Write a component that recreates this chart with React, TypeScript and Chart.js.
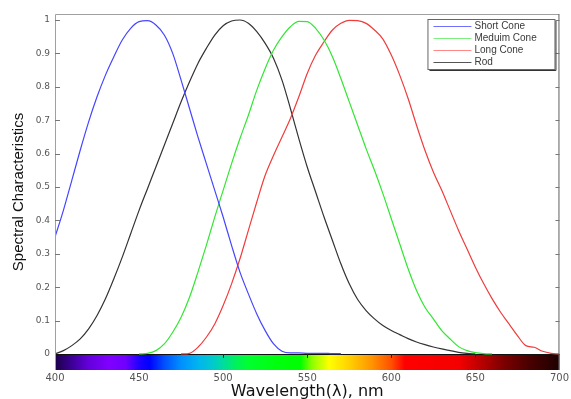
import { useEffect, useRef } from 'react';
import { Chart, registerables } from 'chart.js';

Chart.register(...registerables);

const wavelengths = [
  400, 405, 410, 415, 420, 425, 430, 435, 440, 445,
  450, 455, 460, 465, 470, 475, 480, 485, 490, 495,
  500, 505, 510, 515, 520, 525, 530, 535, 540, 545,
  550, 555, 560, 565, 570, 575, 580, 585, 590, 595,
  600, 605, 610, 615, 620, 625, 630, 635, 640, 645,
  650, 655, 660, 665, 670, 675, 680, 685, 690, 695, 700,
];

const shortCone = [
  0.35, 0.43, 0.52, 0.61, 0.695, 0.77, 0.835, 0.89, 0.94, 0.975,
  0.995, 0.998, 0.985, 0.955, 0.90, 0.82, 0.735, 0.65, 0.57, 0.49,
  0.41, 0.325, 0.245, 0.18, 0.12, 0.07, 0.03, 0.008, 0.003, 0.003,
  0.002, 0.002, 0.002, 0.001, 0.001, null, null, null, null, null,
  null, null, null, null, null, null, null, null, null, null,
  null, null, null, null, null, null, null, null, null, null, null,
];

const mediumCone = [
  null, null, null, null, null, null, null, null, null, null,
  0, 0.002, 0.01, 0.03, 0.065, 0.11, 0.17, 0.245, 0.325, 0.41,
  0.49, 0.57, 0.645, 0.715, 0.79, 0.855, 0.91, 0.95, 0.98, 0.996,
  0.995, 0.975, 0.94, 0.89, 0.825, 0.755, 0.685, 0.615, 0.55, 0.48,
  0.405, 0.33, 0.255, 0.19, 0.14, 0.105, 0.07, 0.045, 0.022, 0.01,
  0.004, 0.001, 0, null, null, null, null, null, null, null, null,
];

const longCone = [
  null, null, null, null, null, null, null, null, null, null,
  null, null, null, null, null, 0, 0.002, 0.02, 0.05, 0.09,
  0.145, 0.21, 0.285, 0.37, 0.455, 0.535, 0.595, 0.65, 0.705, 0.77,
  0.84, 0.895, 0.935, 0.97, 0.99, 0.999, 0.998, 0.99, 0.97, 0.943,
  0.895, 0.835, 0.765, 0.685, 0.61, 0.545, 0.49, 0.43, 0.37, 0.315,
  0.26, 0.21, 0.165, 0.125, 0.09, 0.055, 0.025, 0.02, 0.008, 0.002, 0,
];

const rod = [
  0, 0.01, 0.025, 0.045, 0.075, 0.115, 0.165, 0.225, 0.29, 0.36,
  0.43, 0.495, 0.56, 0.625, 0.69, 0.755, 0.815, 0.87, 0.915, 0.955,
  0.983, 0.997, 1.0, 0.99, 0.965, 0.93, 0.885, 0.82, 0.735, 0.645,
  0.56, 0.485, 0.41, 0.34, 0.27, 0.21, 0.163, 0.13, 0.105, 0.085,
  0.07, 0.058, 0.046, 0.036, 0.028, 0.021, 0.015, 0.01, 0.005, 0.002,
  0, null, null, null, null, null, null, null, null, null, null,
];

const seriesLabels = ['Short Cone', 'Meduim Cone', 'Long Cone', 'Rod'];
const seriesColors = ['#4646ff', '#33e633', '#f03c3c', '#333333'];
const legendColors = ['#7070ff', '#80ee80', '#ff8888', '#555555'];
const xTicks = [400, 450, 500, 550, 600, 650, 700];
const yTicks = [0, 0.1, 0.2, 0.3, 0.4, 0.5, 0.6, 0.7, 0.8, 0.9, 1];
const xTitle = 'Wavelength(\u03bb), nm';
const yTitle = 'Spectral Characteristics';

const spectrumStops: [number, string][] = [
  [400, '#1c0048'], [410, '#3c0096'], [420, '#6400dc'], [432, '#8000ff'],
  [442, '#7000ff'], [450, '#2000ff'], [456, '#0000ff'], [465, '#0050ff'],
  [475, '#0090ff'], [485, '#00b4f0'], [493, '#00c8d0'], [500, '#00dca0'],
  [507, '#00f060'], [515, '#00ff30'], [530, '#00ff10'], [546, '#00ff00'],
  [553, '#90ff00'], [563, '#ffff00'], [575, '#ffd000'], [588, '#ff9600'],
  [600, '#ff5000'], [608, '#ff0000'], [640, '#f50000'], [652, '#c00000'],
  [666, '#800000'], [682, '#4a0000'], [700, '#1e0000'],
];

const FONT = '"Liberation Sans", Arial, sans-serif';
const WIDE_FONT = '"DejaVu Sans", Verdana, sans-serif';

const spectrumPlugin = {
  id: 'spectrumBar',
  beforeDatasetsDraw(chart: any) {
    const { ctx, chartArea } = chart;
    const xs = chart.scales.x;
    const ys = chart.scales.y;
    const x0 = xs.getPixelForValue(xs.min);
    const x1 = xs.getPixelForValue(xs.max);
    const top = Math.round(ys.getPixelForValue(0));
    const bottom = chartArea.bottom;
    ctx.save();
    const g = ctx.createLinearGradient(x0, 0, x1, 0);
    spectrumStops.forEach(([w, c]) => g.addColorStop((w - xs.min) / (xs.max - xs.min), c));
    ctx.fillStyle = g;
    ctx.fillRect(x0, top, x1 - x0, bottom - top);
    ctx.strokeStyle = '#111';
    ctx.lineWidth = 1;
    ctx.beginPath();
    ctx.moveTo(x0, top + 0.5);
    ctx.lineTo(x1, top + 0.5);
    ctx.stroke();
    ctx.strokeStyle = '#222';
    xTicks.slice(1, -1).forEach((v) => {
      const px = Math.round(xs.getPixelForValue(v)) + 0.5;
      ctx.beginPath();
      ctx.moveTo(px, top);
      ctx.lineTo(px, top + 4);
      ctx.stroke();
    });
    ctx.restore();
  },
};

const framePlugin = {
  id: 'frame',
  afterDatasetsDraw(chart: any) {
    const { ctx, chartArea } = chart;
    const ys = chart.scales.y;
    const { left, right, top, bottom } = chartArea;
    ctx.save();
    ctx.lineWidth = 1;
    ctx.strokeStyle = '#a0a0a0';
    ctx.beginPath();
    ctx.moveTo(left + 0.5, bottom);
    ctx.lineTo(left + 0.5, top + 0.5);
    ctx.lineTo(right - 0.5, top + 0.5);
    ctx.stroke();
    ctx.strokeStyle = '#606060';
    ctx.beginPath();
    ctx.moveTo(right - 0.5, top);
    ctx.lineTo(right - 0.5, bottom);
    ctx.stroke();
    ctx.strokeStyle = '#777';
    yTicks.slice(1).forEach((v) => {
      const py = Math.round(ys.getPixelForValue(v)) + 0.5;
      ctx.beginPath();
      ctx.moveTo(left, py);
      ctx.lineTo(left + 5, py);
      ctx.moveTo(right, py);
      ctx.lineTo(right - 4, py);
      ctx.stroke();
    });
    ctx.restore();
  },
};

const legendPlugin = {
  id: 'boxLegend',
  afterDraw(chart: any) {
    const { ctx, chartArea } = chart;
    const bx = chartArea.right - 132;
    const by = chartArea.top + 5;
    const bw = 127;
    const bh = 50;
    ctx.save();
    ctx.fillStyle = '#ffffff';
    ctx.fillRect(bx, by, bw, bh);
    ctx.strokeStyle = '#333';
    ctx.lineWidth = 1;
    ctx.beginPath();
    ctx.moveTo(bx + bw + 1.5, by + 2);
    ctx.lineTo(bx + bw + 1.5, by + bh + 1.5);
    ctx.lineTo(bx + 2, by + bh + 1.5);
    ctx.stroke();
    ctx.strokeStyle = '#666';
    ctx.strokeRect(bx + 0.5, by + 0.5, bw, bh);
    ctx.font = `10px ${FONT}`;
    ctx.textBaseline = 'middle';
    ctx.textAlign = 'left';
    chart.data.datasets.forEach((ds: any, i: number) => {
      const y = by + 7.5 + i * 12;
      ctx.strokeStyle = legendColors[i];
      ctx.lineWidth = 1.2;
      ctx.beginPath();
      ctx.moveTo(bx + 6, y);
      ctx.lineTo(bx + 44, y);
      ctx.stroke();
      ctx.fillStyle = '#3a3a3a';
      ctx.fillText(ds.label, bx + 47, y);
    });
    ctx.restore();
  },
};

export default function App() {
  const canvasRef = useRef<HTMLCanvasElement | null>(null);

  useEffect(() => {
    if (!canvasRef.current) return;
    const seriesValues = [shortCone, mediumCone, longCone, rod];
    const chart = new Chart(canvasRef.current, {
      type: 'line',
      data: {
        datasets: seriesValues.map((vals, i) => ({
          label: seriesLabels[i],
          data: wavelengths.map((w, j) => ({ x: w, y: vals[j] })),
          borderColor: seriesColors[i],
          backgroundColor: seriesColors[i],
          borderWidth: 1.2,
          pointRadius: 0,
          cubicInterpolationMode: 'monotone',
          fill: false,
        })),
      },
      options: {
        animation: false,
        responsive: false,
        devicePixelRatio: 1,
        layout: { padding: { top: 14, right: 8, left: 0, bottom: 0 }, autoPadding: false },
        plugins: {
          legend: { display: false },
          tooltip: { enabled: false },
        },
        scales: {
          x: {
            type: 'linear',
            min: 400,
            max: 700,
            afterBuildTicks: (s: any) => {
              s.ticks = xTicks.map((v) => ({ value: v }));
            },
            afterFit: (s: any) => {
              s.height = 29;
            },
            grid: { display: false, drawTicks: false },
            border: { display: false },
            ticks: {
              font: { size: 10, family: WIDE_FONT },
              color: '#555',
              padding: 2,
              maxRotation: 0,
              autoSkip: false,
              callback: (v: any) => String(v),
            },
            title: {
              display: true,
              text: xTitle,
              font: { size: 16, family: WIDE_FONT },
              color: '#111',
              padding: { top: 0, bottom: -2 },
            },
          },
          y: {
            type: 'linear',
            min: -0.048,
            max: 1.018,
            afterBuildTicks: (s: any) => {
              s.ticks = yTicks.map((v) => ({ value: v }));
            },
            afterFit: (s: any) => {
              s.width = 55;
            },
            grid: { display: false, drawTicks: false },
            border: { display: false },
            ticks: {
              font: { size: 9, family: WIDE_FONT },
              color: '#555',
              padding: 5,
              autoSkip: false,
              callback: (v: any) => String(Math.round(Number(v) * 10) / 10),
            },
            title: {
              display: true,
              text: yTitle,
              font: { size: 15, family: FONT },
              color: '#111',
              padding: { top: 9.5, bottom: 0 },
            },
          },
        },
      },
      plugins: [spectrumPlugin, framePlugin, legendPlugin],
    } as any);
    return () => chart.destroy();
  }, []);

  return (
    <div style={{ position: 'fixed', left: 0, top: 0, width: 571, height: 399, background: '#fff' }}>
      <canvas ref={canvasRef} width={571} height={399} style={{ width: 571, height: 399, display: 'block' }} />
    </div>
  );
}
